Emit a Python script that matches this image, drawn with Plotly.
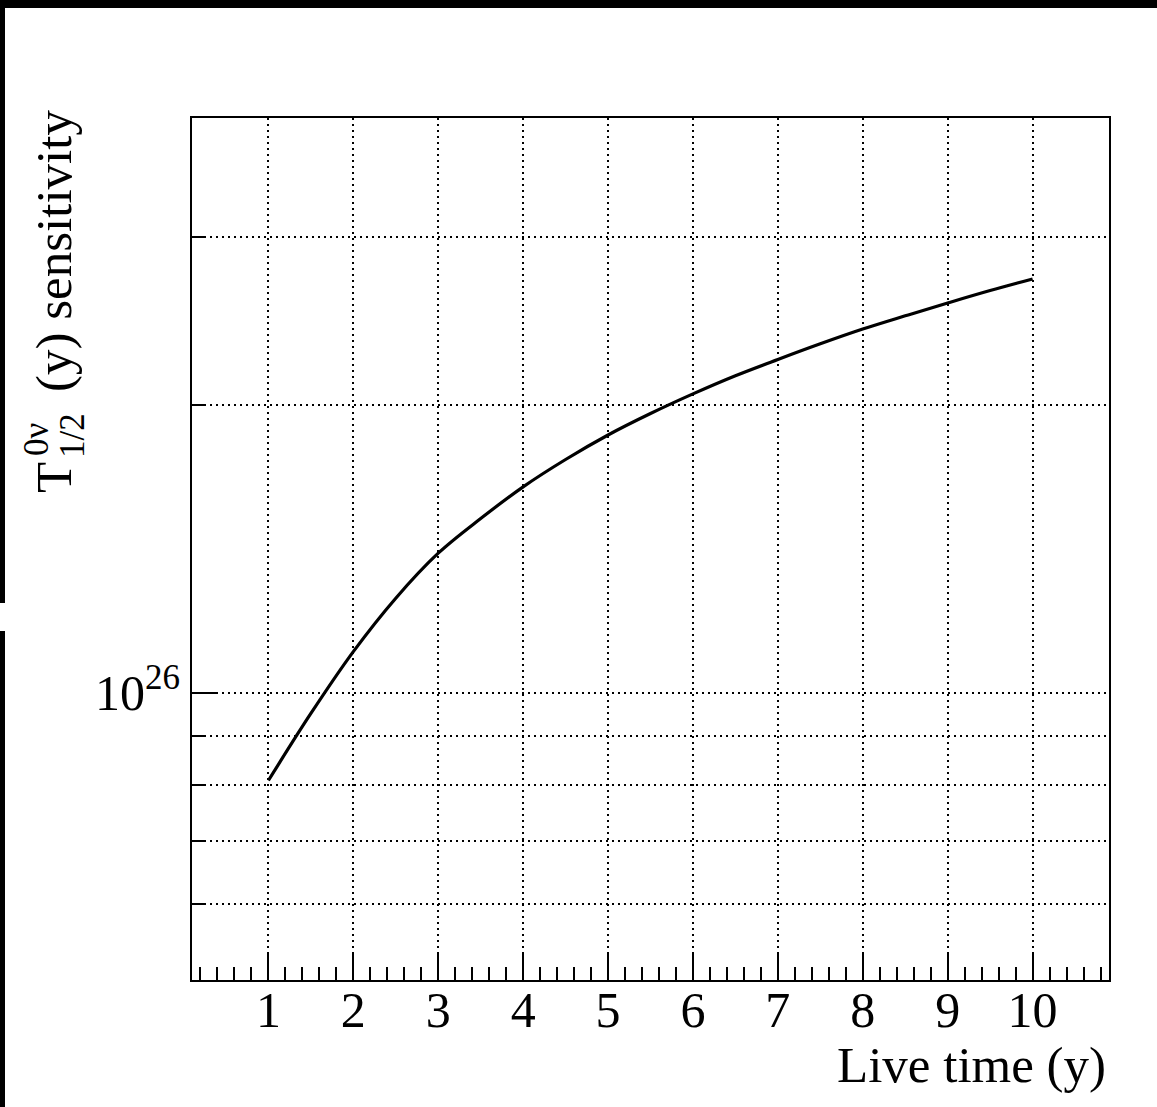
import plotly.graph_objects as go

# Data
live_time = [1, 1.5, 2, 2.5, 3, 3.5, 4, 4.5, 5, 5.5,
             6, 6.5, 7, 7.5, 8, 8.5, 9, 9.5, 10]
sensitivity = [8.09e25, 9.51e25, 1.104e26, 1.256e26, 1.400e26, 1.522e26,
               1.643e26, 1.755e26, 1.862e26, 1.961e26, 2.056e26, 2.148e26,
               2.234e26, 2.320e26, 2.404e26, 2.482e26, 2.560e26, 2.638e26,
               2.713e26]

x_ticks = [1, 2, 3, 4, 5, 6, 7, 8, 9, 10]
y_major = [1e26]
y_major_text = ["10<sup>26</sup>"]
y_minor = [6e25, 7e25, 8e25, 9e25, 2e26, 3e26]

W, H = 1157, 1107
L, R, T, B = 192, 48, 118, 127
PW, PH = W - L - R, H - T - B

def px(x):
    return (x - L) / PW

def py(y):
    return (H - B - y) / PH

FONT = "Liberation Serif"
GRID_DASH = "2px,4px"

fig = go.Figure()
fig.add_trace(go.Scatter(
    x=live_time, y=sensitivity, mode="lines",
    line=dict(color="black", width=3.2, shape="spline", smoothing=1.0),
    showlegend=False, hoverinfo="skip"))

fig.update_layout(
    width=W, height=H,
    margin=dict(l=L, r=R, t=T, b=B, pad=0),
    paper_bgcolor="white", plot_bgcolor="white",
    font=dict(family=FONT, color="black", size=50),
    showlegend=False,
)

fig.update_xaxes(
    range=[0.1, 10.9], tickmode="array", tickvals=x_ticks,
    ticks="inside", ticklen=27, tickwidth=1.5, tickcolor="black",
    showline=True, linecolor="black", linewidth=2, mirror=True,
    showgrid=True, gridcolor="black", gridwidth=1.5, griddash=GRID_DASH,
    zeroline=False, ticklabelstandoff=-15,
    tickfont=dict(family=FONT, size=50, color="black"),
    minor=dict(dtick=0.2, tick0=0, ticks="inside", ticklen=13,
               tickwidth=1.5, tickcolor="black", showgrid=False),
)

fig.update_yaxes(
    type="log", range=[25.69897, 26.60206],
    tickmode="array", tickvals=y_major, ticktext=y_major_text,
    ticks="inside", ticklen=26, tickwidth=1.5, tickcolor="black",
    showline=True, linecolor="black", linewidth=2, mirror=True,
    showgrid=True, gridcolor="black", gridwidth=1.5, griddash=GRID_DASH,
    zeroline=False,
    tickfont=dict(family=FONT, size=50, color="black"),
    minor=dict(tickmode="array", tickvals=y_minor, ticks="inside", ticklen=13,
               tickwidth=1.5, tickcolor="black", showgrid=True,
               gridcolor="black", gridwidth=1.5, griddash=GRID_DASH),
)

# Axis titles
fig.add_annotation(text="Live time (y)", xref="paper", yref="paper",
                   x=px(1108), y=py(1065), xanchor="right", yanchor="middle",
                   showarrow=False, font=dict(family=FONT, size=51, color="black"))

# y-axis title built from pieces (stacked super/subscript)
fig.add_annotation(text="(y) sensitivity", xref="paper", yref="paper",
                   x=px(54), y=py(394), xanchor="center", yanchor="bottom",
                   textangle=-90, showarrow=False,
                   font=dict(family=FONT, size=51, color="black"))
fig.add_annotation(text="T", xref="paper", yref="paper",
                   x=px(54), y=py(478), xanchor="center", yanchor="middle",
                   textangle=-90, showarrow=False,
                   font=dict(family=FONT, size=51, color="black"))
fig.add_annotation(text="0ν", xref="paper", yref="paper",
                   x=px(36), y=py(440), xanchor="center", yanchor="middle",
                   textangle=-90, showarrow=False,
                   font=dict(family=FONT, size=35, color="black"))
fig.add_annotation(text="1/2", xref="paper", yref="paper",
                   x=px(72), y=py(435), xanchor="center", yanchor="middle",
                   textangle=-90, showarrow=False,
                   font=dict(family=FONT, size=35, color="black"))

# black border strips from the screenshot
shape_kw = dict(type="rect", xref="paper", yref="paper", fillcolor="black",
                line=dict(width=0), layer="above")
fig.add_shape(x0=px(0), x1=px(W), y0=py(0), y1=py(8), **shape_kw)
fig.add_shape(x0=px(0), x1=px(5), y0=py(0), y1=py(603), **shape_kw)
fig.add_shape(x0=px(0), x1=px(5), y0=py(631), y1=py(H), **shape_kw)

fig.write_html("out.html")
